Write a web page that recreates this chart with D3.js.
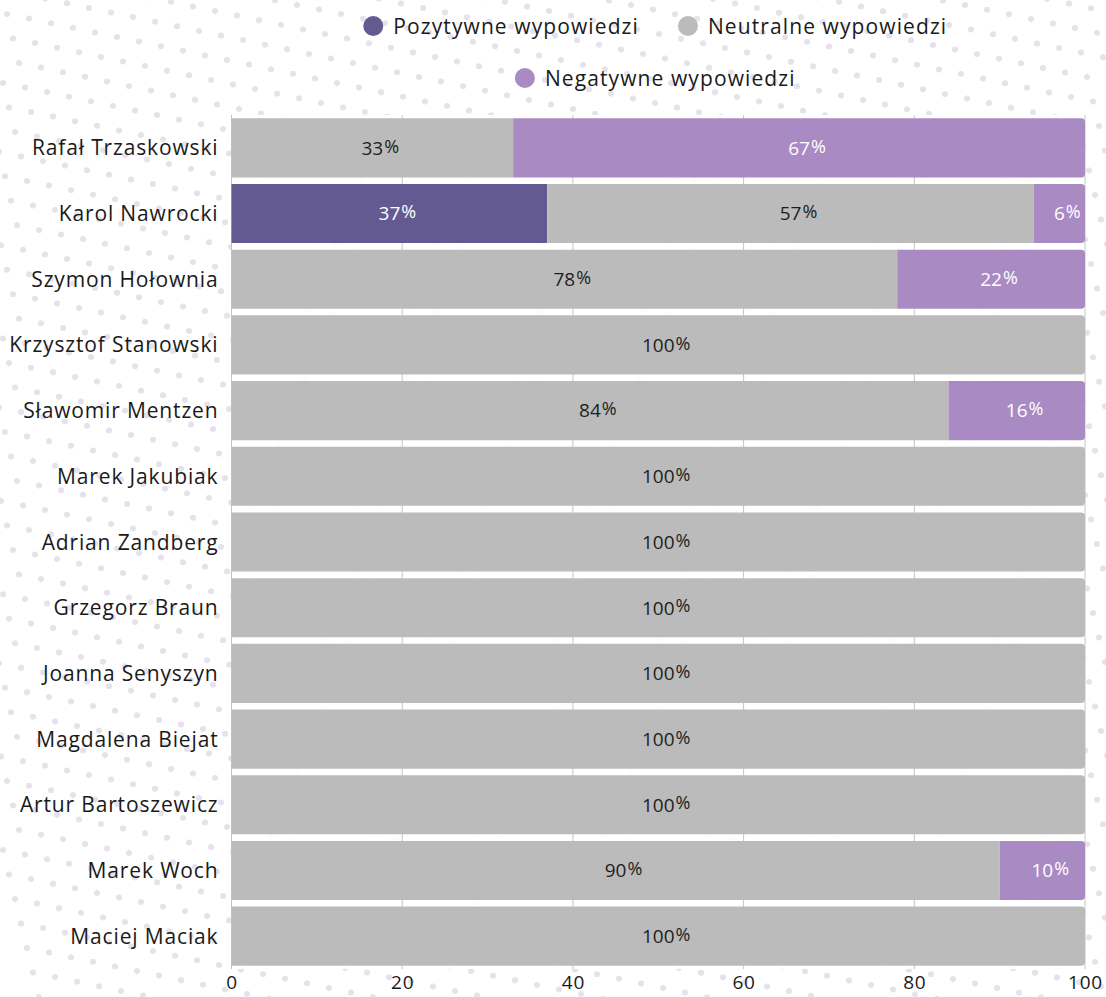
<!DOCTYPE html>
<html>
<head>
<meta charset="utf-8">
<script src="https://cdn.jsdelivr.net/npm/d3@7"></script>
<style>
  body { margin: 0; background: #fff; }
  svg { display: block; font-family: "Open Sans", sans-serif; }
</style>
</head>
<body>
<div id="chart"></div>
<script>
const candidates = [
  "Rafał Trzaskowski", "Karol Nawrocki", "Szymon Hołownia", "Krzysztof Stanowski",
  "Sławomir Mentzen", "Marek Jakubiak", "Adrian Zandberg", "Grzegorz Braun",
  "Joanna Senyszyn", "Magdalena Biejat", "Artur Bartoszewicz", "Marek Woch", "Maciej Maciak"
];
const positive = [0, 37, 0, 0, 0, 0, 0, 0, 0, 0, 0, 0, 0];
const neutral  = [33, 57, 78, 100, 84, 100, 100, 100, 100, 100, 100, 90, 100];
const negative = [67, 6, 22, 0, 16, 0, 0, 0, 0, 0, 0, 10, 0];
const seriesNames = ["Pozytywne wypowiedzi", "Neutralne wypowiedzi", "Negatywne wypowiedzi"];
const xTicks = [0, 20, 40, 60, 80, 100];

const W = 1106, H = 997;
const margin = { top: 115, right: 21, bottom: 28, left: 231.5 };
const width = W - margin.left - margin.right;
const height = H - margin.top - margin.bottom;

const colors = ["#625a91", "#bbbbbb", "#a98ac3"];
const textColors = ["#ffffff", "#1e1e1e", "#ffffff"];

const svg = d3.select("#chart").append("svg")
  .attr("width", W)
  .attr("height", H);

svg.append("rect").attr("width", W).attr("height", H).attr("fill", "#fff");

// dotted background (decoration only): slanted lattice of small dots
const dotG = svg.append("g").attr("fill", "#e5e2ee");
const dots = [];
for (let i = -10; i < 60; i++) {
  for (let j = -10; j < 50; j++) {
    const px = 7 + i * 22 + j * 6;
    const py = 14 + i * 4.6 + j * 24.5;
    if (px > -5 && px < W + 5 && py > -5 && py < H + 5) dots.push([px, py]);
  }
}
dotG.selectAll("circle")
  .data(dots)
  .join("circle")
  .attr("cx", d => d[0])
  .attr("cy", d => d[1])
  .attr("r", 3);

const g = svg.append("g")
  .attr("transform", `translate(${margin.left},${margin.top})`);

const x = d3.scaleLinear().domain([0, 100]).range([0, width]);
const y = d3.scaleBand().domain(candidates).range([0, height])
  .paddingInner(0.1).paddingOuter(0.05);

// plot background
g.append("rect")
  .attr("x", 0).attr("y", 0)
  .attr("width", width).attr("height", height)
  .attr("fill", "#fff").attr("opacity", 0.9);

// gridlines
g.append("g")
  .selectAll("line")
  .data(xTicks)
  .join("line")
  .attr("x1", d => x(d)).attr("x2", d => x(d))
  .attr("y1", 0).attr("y2", height)
  .attr("stroke", "#c4c4c4")
  .attr("stroke-width", 1);

// stacked data
const rows = candidates.map((name, i) => ({
  name, values: [positive[i], neutral[i], negative[i]]
}));

const r = 4;
rows.forEach(row => {
  const y0 = y(row.name);
  const bh = y.bandwidth();
  let acc = 0;
  const segs = [];
  row.values.forEach((v, k) => {
    if (v > 0) segs.push({ k, v, start: acc, end: acc + v });
    acc += v;
  });
  segs.forEach((s, idx) => {
    const x0 = x(s.start), x1 = x(s.end);
    const last = idx === segs.length - 1;
    let path;
    if (last) {
      path = `M${x0},${y0}H${x1 - r}Q${x1},${y0} ${x1},${y0 + r}V${y0 + bh - r}Q${x1},${y0 + bh} ${x1 - r},${y0 + bh}H${x0}Z`;
    } else {
      path = `M${x0},${y0}H${x1}V${y0 + bh}H${x0}Z`;
    }
    g.append("path").attr("d", path).attr("fill", colors[s.k]);

    // number centred in segment, % sign trailing after it
    const t = g.append("text")
      .attr("y", y0 + bh / 2)
      .attr("dy", "0.36em")
      .attr("font-size", 19)
      .attr("fill", textColors[s.k]);
    const num = t.append("tspan").text(s.v);
    t.append("tspan").attr("font-size", 18).attr("dx", 1).attr("dy", "-0.12em").text("%");
    const nw = num.node().getComputedTextLength();
    t.attr("x", (x0 + x1) / 2 - nw / 2);
  });
});

// y axis labels
g.append("g")
  .selectAll("text")
  .data(candidates)
  .join("text")
  .attr("x", -13)
  .attr("y", d => y(d) + y.bandwidth() / 2)
  .attr("dy", "0.36em")
  .attr("text-anchor", "end")
  .attr("font-size", 21)
  .attr("letter-spacing", 0.85)
  .attr("fill", "#1a1a1a")
  .text(d => d);

// x axis
const xAxis = g.append("g")
  .attr("transform", `translate(0,${height})`)
  .call(d3.axisBottom(x).tickValues(xTicks).tickSize(0).tickPadding(7));
xAxis.select(".domain").remove();
xAxis.selectAll("text")
  .attr("font-size", 19)
  .attr("letter-spacing", 0.8)
  .attr("font-family", "'Open Sans', sans-serif")
  .attr("fill", "#1a1a1a");

// legend
const legendRows = [[0, 1], [2]];
const legendY = [26, 78];
const legend = svg.append("g");
const cx = margin.left + width / 2 - 3;
legendRows.forEach((items, ri) => {
  const rowG = legend.append("g");
  let off = 0;
  items.forEach((k, j) => {
    const item = rowG.append("g").attr("transform", `translate(${off},0)`);
    item.append("circle").attr("cx", 10).attr("cy", 0).attr("r", 10).attr("fill", colors[k]);
    const t = item.append("text")
      .attr("x", 30).attr("y", 0).attr("dy", "0.36em")
      .attr("font-size", 21).attr("letter-spacing", 1.1).attr("fill", "#1a1a1a")
      .text(seriesNames[k]);
    off += 30 + t.node().getComputedTextLength() + (j < items.length - 1 ? 39 : 0);
  });
  rowG.attr("transform", `translate(${cx - off / 2},${legendY[ri]})`);
});
</script>
</body>
</html>
